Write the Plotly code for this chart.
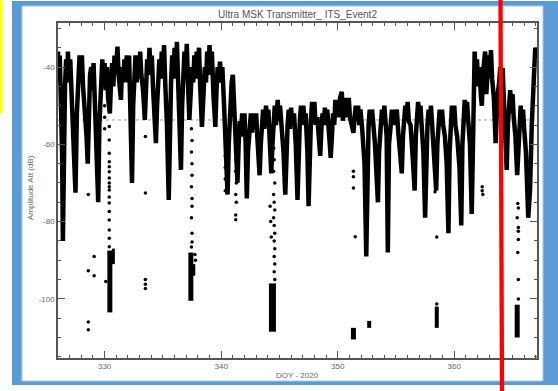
import plotly.graph_objects as go

# ---------------- data ----------------
# main amplitude trace (DOY, dB), in three regimes
doy_early = [326.0, 326.08, 326.15, 326.25, 326.35, 326.42, 326.5, 326.6, 326.7, 326.78, 326.85, 326.95,
             327.05, 327.2, 327.35, 327.5, 327.62, 327.75, 327.85, 327.95, 328.05, 328.15, 328.3, 328.45,
             328.55, 328.65, 328.75, 328.85, 328.95, 329.05, 329.15, 329.3, 329.45, 329.55, 329.7, 329.8,
             329.9, 330.0, 330.1, 330.2, 330.3, 330.45, 330.55, 330.65, 330.75, 330.85, 330.95, 331.1,
             331.2, 331.3, 331.4, 331.5, 331.6, 331.7, 331.8, 331.9, 332.0, 332.1, 332.2, 332.35,
             332.45, 332.55, 332.65, 332.75, 332.85, 332.95, 333.05, 333.15, 333.3, 333.45, 333.55, 333.65,
             333.75, 333.85, 333.95, 334.05, 334.15, 334.3, 334.4, 334.5, 334.6, 334.7, 334.8, 334.9,
             335.0, 335.1, 335.2, 335.35, 335.5, 335.6, 335.7, 335.8, 335.9, 336.0, 336.1, 336.2,
             336.3, 336.42, 336.55, 336.65, 336.75, 336.85, 336.95, 337.05, 337.15, 337.27, 337.4, 337.5,
             337.6, 337.7, 337.8, 337.9, 338.0, 338.1, 338.2, 338.35, 338.5, 338.6, 338.7, 338.8,
             338.9, 339.0, 339.1, 339.2, 339.35, 339.5, 339.6, 339.7, 339.8, 339.9, 340.0, 340.1,
             340.25, 340.4, 340.55, 340.65, 340.75, 340.9, 341.0, 341.1, 341.25, 341.4]
db_early = [-36, -44, -37, -50, -62, -85, -62, -45, -38, -44, -36, -43,
            -38, -50, -60, -72.5, -52, -42, -37, -44, -37, -45, -50, -58,
            -65, -50, -42, -40, -46, -39, -48, -60, -75, -55, -40, -38,
            -45, -39, -46, -40, -48, -52, -44, -39, -45, -37, -42, -34.7,
            -42, -46, -48.5, -40, -44, -38, -43, -37, -44, -37, -50, -70,
            -50, -42, -37, -44, -37, -43, -36, -42, -46, -53.7, -44, -38,
            -42, -35, -42, -37, -45, -52, -59.7, -50, -44, -38, -43, -36,
            -42, -34.3, -44, -55, -74.4, -55, -44, -37, -43, -35, -42, -33.5,
            -42, -52, -66.6, -50, -42, -36, -42, -34, -44, -53.7, -46, -40,
            -44, -37, -43, -36, -41, -35, -45, -55.5, -46, -40, -44, -36,
            -42, -34.3, -41, -36, -48, -55.5, -46, -40, -44, -38.6, -44, -40,
            -50, -59, -73, -60, -50, -44, -42, -48, -58, -70]

doy_mid = [341.5, 341.6, 341.7, 341.8, 341.9, 342.0, 342.1, 342.2, 342.3, 342.45, 342.55, 342.65,
           342.75, 342.85, 343.0, 343.1, 343.3, 343.4, 343.5, 343.6, 343.7, 343.85, 343.95, 344.05,
           344.15, 344.3, 344.4, 344.5, 344.6, 344.7, 344.85, 344.95, 345.05, 345.2, 345.35, 345.5,
           345.6, 345.7, 345.8, 345.9, 346.0, 346.1, 346.25, 346.4, 346.55, 346.65, 346.75, 346.85,
           346.95, 347.05, 347.15, 347.25, 347.4, 347.5, 347.6, 347.7, 347.8, 347.9, 348.0, 348.1,
           348.25, 348.4, 348.5, 348.6, 348.7, 348.8, 348.9, 349.0, 349.1, 349.25, 349.4, 349.5,
           349.6, 349.7, 349.8, 349.9, 350.0, 350.1, 350.2, 350.35, 350.45, 350.55, 350.65, 350.75,
           350.85, 350.95, 351.05, 351.2, 351.35, 351.45, 351.55, 351.65, 351.75, 351.85, 351.95, 352.1,
           352.3, 352.45, 352.55, 352.65, 352.75, 352.85, 352.95, 353.05, 353.2, 353.45, 353.55, 353.7,
           353.8, 353.9, 354.0, 354.1, 354.2, 354.3, 354.4, 354.55, 354.65, 354.75, 354.85, 354.95,
           355.07, 355.2, 355.35, 355.5, 355.6, 355.7, 355.8, 355.9, 356.0, 356.1, 356.25, 356.45,
           356.6, 356.7, 356.8, 356.9, 357.0, 357.1, 357.2, 357.35, 357.5, 357.6, 357.7, 357.8,
           357.9, 358.0, 358.1, 358.25, 358.45, 358.55, 358.65, 358.75, 358.85, 358.95, 359.05, 359.2,
           359.35, 359.5, 359.6, 359.7, 359.8, 359.9, 360.0, 360.1, 360.25, 360.45, 360.6, 360.7,
           360.8, 360.9, 361.0, 361.1, 361.2, 361.35, 361.5, 361.6]
db_mid = [-60, -54, -58, -52, -56, -52, -60, -74, -62, -56, -52, -57,
          -52, -56, -52, -58, -68, -60, -55, -51, -56, -50, -55, -51,
          -58, -67.5, -60, -54, -50, -55, -48.5, -54, -50, -56, -62, -73,
          -62, -55, -51, -56, -50.5, -55, -52, -60, -74.4, -60, -54, -50,
          -55, -50, -54, -52, -62, -76, -60, -54, -49, -54, -49, -55,
          -53, -60, -63, -56, -52, -55, -50.5, -55, -51, -57, -63.5, -58,
          -52, -55, -48.5, -53, -49, -53, -48, -46.4, -53.9, -49, -53, -48,
          -52, -48, -53, -55, -57, -53, -50, -54, -50, -55, -51, -56,
          -65, -89, -65, -55, -51, -55, -51, -55, -60, -75, -62, -55,
          -51, -55, -50, -54, -58, -88, -60, -55, -51, -55, -51, -55,
          -51, -57, -62, -67.5, -58, -53, -50, -54, -49, -54, -55, -64,
          -72, -58, -52, -49, -54, -50, -55, -62, -79, -62, -55, -51,
          -55, -50, -55, -58, -72, -60, -55, -51, -55, -51, -55, -58,
          -65, -83, -62, -55, -50, -54, -50, -55, -58, -66, -81, -60,
          -53, -48.5, -53, -49, -54, -60, -78, -62]

doy_late = [361.7, 361.75, 361.85, 361.95, 362.05, 362.15, 362.3, 362.37, 362.45, 362.55, 362.65, 362.75,
            362.85, 362.95, 363.05, 363.15, 363.25, 363.4, 363.55, 363.7, 363.85, 363.95, 364.05, 364.15,
            364.25, 364.38, 364.5, 364.6, 364.7, 364.8, 364.9, 365.0, 365.1, 365.25, 365.4, 365.5,
            365.6, 365.7, 365.8, 365.9, 366.0, 366.15, 366.35, 366.5, 366.65, 366.8, 366.95, 367.05]
db_late = [-46, -36, -44, -38, -45, -40, -48, -50, -42, -38, -36, -47,
           -40, -37, -43, -35.6, -43, -48, -59.7, -48, -44, -40, -46, -40.3,
           -48, -56, -66.6, -55, -50, -46, -52, -47, -53, -58, -68, -60,
           -54, -50, -55, -51, -56, -62, -79, -72, -55, -42, -35, -38]

# dense vertical clusters of samples: DOY, top dB, bottom dB, cluster width (px)
burst_doy = [330.45, 330.75, 337.4, 337.65, 344.4, 351.35, 352.7, 358.5, 365.4]
burst_top = [-87.5, -87.0, -88.0, -91.0, -96.0, -107.5, -105.7, -102.0, -101.5]
burst_bot = [-103.5, -91.0, -100.5, -94.0, -108.5, -110.5, -107.5, -107.5, -110.0]
burst_w = [5, 3, 5, 3, 7, 5, 4, 4, 5]

# isolated samples
dot_doy = [330.4, 330.4, 330.4, 330.4, 330.4, 330.4, 330.4, 330.4, 330.4, 330.4, 330.4, 330.4, 330.4,
           330.4, 330.4, 330.4, 330.4, 330.4, 330.4, 330.4, 330.4, 330.0, 330.0, 330.0,
           329.1, 328.6, 329.1, 330.1, 328.6, 328.6, 328.6, 333.5, 333.5, 333.5, 333.5, 333.5,
           341.25, 341.25,
           337.45, 337.5, 337.45, 337.5, 337.5, 337.45, 337.5, 337.5, 337.45, 337.5, 337.5, 337.45,
           337.75, 337.8,
           340.35, 340.35, 340.35, 340.35, 341.25, 341.25, 341.3, 341.25, 341.3,
           344.5, 344.55, 344.5, 344.6, 344.5, 344.55, 344.6, 344.5, 344.55, 344.6, 344.55, 344.6,
           344.55, 344.6, 344.55, 344.6, 344.2, 344.25, 344.3,
           351.35, 351.35, 351.35, 351.5, 358.35, 358.5, 358.5, 362.4, 362.4, 362.45,
           365.45, 365.5, 365.4, 365.5, 365.5, 365.5, 365.45, 365.5, 365.5]
dot_db = [-47.7, -49.8, -51.1, -55.4, -58.9, -62.3, -64.5, -65.8, -67.1, -68.7, -70, -71, -71.8,
          -73.6, -75.2, -77.4, -79.6, -82.2, -84.3, -86.5, -88.1, -50, -53, -56,
          -89, -92.7, -94, -95.5, -106, -108, -73, -58, -72.6, -95, -96.2, -97.3,
          -78.3, -79.5,
          -56, -59, -62, -65, -68, -71, -74, -76, -79, -83, -85.3, -86.6,
          -88.5, -90,
          -63, -66, -69, -72, -64, -67, -70, -73, -75,
          -61, -64, -67, -70, -73, -75, -77, -79, -81, -83, -85, -87,
          -89, -91, -93, -95, -76, -80, -84,
          -67, -68.4, -71.3, -83.9, -72.3, -84, -101.3, -71, -72, -73,
          -75.3, -76.5, -79, -81.5, -82.5, -84.6, -88, -95, -100]

ref_level = -53.7  # dotted reference level

x_ticks = [330, 340, 350, 360]
y_ticks = [-40, -60, -80, -100]
y_labels = ["-40", "-60", "-80", "-100"]

# ---------------- figure ----------------
W, H = 558, 391
L, R, T, B = 58, 537, 23, 358   # plot area in pixels
fig = go.Figure()

trace_doy = doy_early + doy_mid + doy_late
trace_db = db_early + db_mid + db_late
fig.add_trace(go.Scatter(x=trace_doy, y=trace_db, mode="lines",
                         line=dict(color="black", width=4.5), hoverinfo="skip"))

for d, t, b, w in zip(burst_doy, burst_top, burst_bot, burst_w):
    fig.add_trace(go.Scatter(x=[d, d], y=[t, b], mode="lines",
                             line=dict(color="black", width=w), hoverinfo="skip"))

fig.add_trace(go.Scatter(x=dot_doy, y=dot_db, mode="markers",
                         marker=dict(color="black", size=3.5), hoverinfo="skip"))

# paper coordinates are relative to the plot area
def px(xp):
    return (xp - L) / (R - L)

def py(yp):
    return (B - yp) / (B - T)

shapes = [
    # slide frame
    dict(type="rect", xref="paper", yref="paper", x0=px(12), x1=px(560), y0=py(385), y1=py(1),
         fillcolor="#5b9bd5", line=dict(width=0), layer="below"),
    dict(type="rect", xref="paper", yref="paper", x0=px(22), x1=px(543), y0=py(381), y1=py(6),
         fillcolor="white", line=dict(color="#a9c8ea", width=1), layer="below"),
    # yellow strip
    dict(type="rect", xref="paper", yref="paper", x0=px(-1), x1=px(2.5), y0=py(113), y1=py(-1),
         fillcolor="#ffff00", line=dict(width=0), layer="below"),
    # dotted reference line
    dict(type="line", xref="x", yref="y", x0=326, x1=367.1, y0=ref_level, y1=ref_level,
         line=dict(color="#999999", width=1, dash="dot"), layer="below"),
    # red marker line
    dict(type="line", xref="paper", yref="paper", x0=px(500.5), x1=px(502), y0=py(-1), y1=py(392),
         line=dict(color="#ff0000", width=4.3), layer="above"),
]

axis_common = dict(showline=True, linecolor="#555555", linewidth=1.5, mirror="ticks",
                   ticks="inside", ticklen=7, tickwidth=1.2, tickcolor="#555555",
                   showgrid=False, zeroline=False,
                   tickfont=dict(family="Liberation Sans, Arial", size=8, color="#666666"))

fig.update_layout(
    width=W, height=H, autosize=False,
    margin=dict(l=L, r=W - R, t=T, b=H - B, pad=0),
    paper_bgcolor="white", plot_bgcolor="white",
    showlegend=False,
    shapes=shapes,
    xaxis=dict(range=[326.0, 367.1], tickmode="array", tickvals=x_ticks,
               ticktext=[str(v) for v in x_ticks],
               minor=dict(tickmode="linear", tick0=0, dtick=1, ticks="inside", ticklen=3.5,
                          tickcolor="#555555", tickwidth=1.2),
               **axis_common),
    yaxis=dict(range=[-115.3, -28.6], tickmode="array", tickvals=y_ticks, ticktext=y_labels,
               minor=dict(tickmode="linear", tick0=0, dtick=5, ticks="inside", ticklen=3.5,
                          tickcolor="#555555", tickwidth=1.2),
               **axis_common),
    annotations=[
        dict(text="Ultra MSK Transmitter_ ITS_Event2", xref="paper", yref="paper",
             x=px(297), y=py(14), xanchor="center", yanchor="middle", showarrow=False,
             font=dict(family="Liberation Sans, Arial", size=10, color="#555555")),
        dict(text="DOY - 2020", xref="paper", yref="paper",
             x=px(297), y=py(376), xanchor="center", yanchor="middle", showarrow=False,
             font=dict(family="Liberation Sans, Arial", size=8, color="#666666")),
        dict(text="Amplitude Att (dB)", xref="paper", yref="paper", textangle=-90,
             x=px(30), y=py(188), xanchor="center", yanchor="middle", showarrow=False,
             font=dict(family="Liberation Sans, Arial", size=8, color="#666666")),
    ],
)

fig.write_html("out.html")
